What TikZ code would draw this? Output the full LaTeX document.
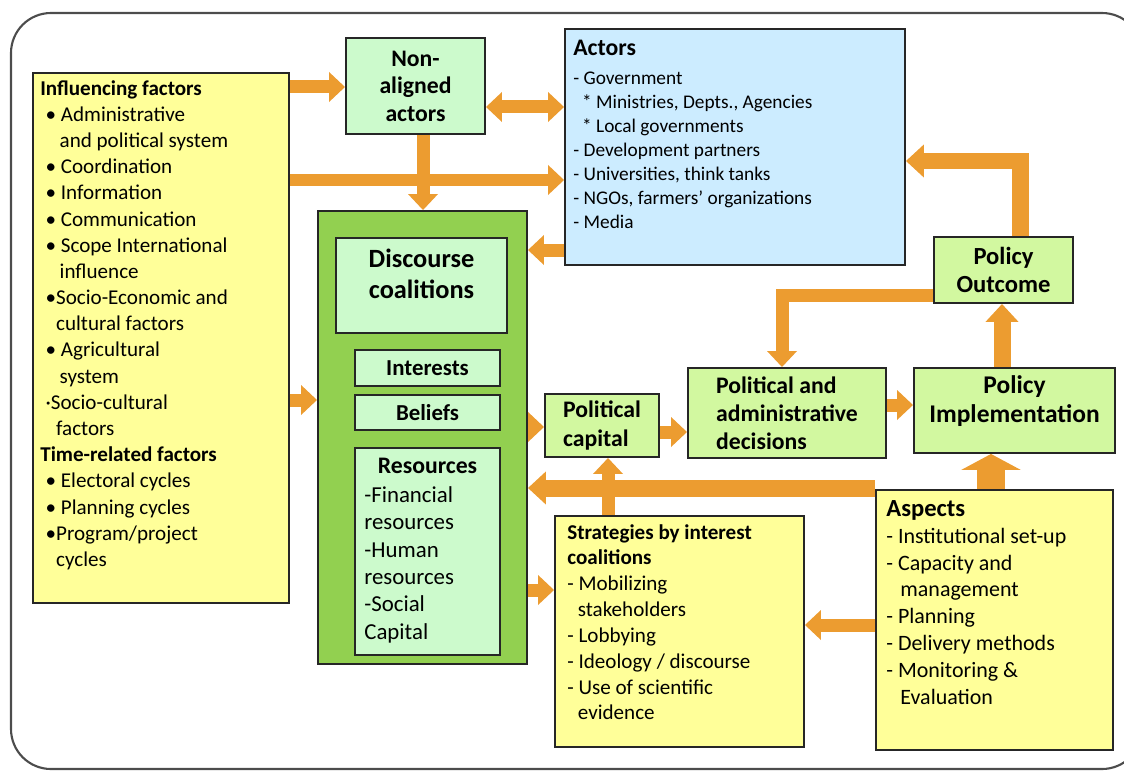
\documentclass[tikz,border=0pt]{standalone}
\usepackage{fontspec}
\setmainfont{Carlito}
\usetikzlibrary{arrows.meta,positioning}

\definecolor{factoryellow}{RGB}{255,255,153}
\definecolor{mintgreen}{RGB}{204,250,204}
\definecolor{limegreen}{RGB}{210,248,160}
\definecolor{actorblue}{RGB}{204,236,255}
\definecolor{groupgreen}{RGB}{146,208,80}
\definecolor{arroworange}{RGB}{236,156,48}

\begin{document}
\begin{tikzpicture}[x=0.02cm,y=-0.02cm]
\tikzset{
  box/.style={draw=black!85,line width=1.1pt,inner sep=2pt},
  yellowbox/.style={box,fill=factoryellow},
  mintbox/.style={box,fill=mintgreen},
  limebox/.style={box,fill=limegreen,font=\bfseries\fontsize{13.5}{16}\selectfont,align=center},
  bluebox/.style={box,fill=actorblue},
  groupbox/.style={box,fill=groupgreen},
  listtext/.style={anchor=north west,inner sep=0pt,align=left},
  flow/.style={-{Triangle[width=5.8mm,length=3.2mm]},line width=2.6mm,draw=arroworange},
  twoway/.style={{Triangle[width=5.8mm,length=3.2mm]}-{Triangle[width=5.8mm,length=3.2mm]},line width=2.6mm,draw=arroworange},
  wideflow/.style={-{Triangle[width=6.4mm,length=3.6mm]},line width=3.4mm,draw=arroworange},
  fatflow/.style={-{Triangle[width=11.8mm,length=3.2mm]},line width=5.6mm,draw=arroworange}
}
\useasboundingbox (0,0) rectangle (1124,770);
\draw[line width=1.2pt,draw=black!70,rounded corners=8mm] (11,13) rectangle (1142,769);

% boxes
\node[yellowbox,minimum width=5.12cm,minimum height=10.6cm] (infl) at (161,338) {};
\node[mintbox,font=\bfseries\fontsize{13.5}{15.6}\selectfont,align=center,minimum width=2.78cm,minimum height=1.92cm] (nonal) at (415.5,86) {Non-\\aligned\\actors};
\node[bluebox,minimum width=6.8cm,minimum height=4.72cm] (actors) at (735,147) {};
\node[groupbox,minimum width=4.18cm,minimum height=9.06cm] (dc) at (422.5,437.5) {};
\node[mintbox,minimum width=3.42cm,minimum height=1.9cm] (disc) at (421.5,285.5) {};
\node[mintbox,font=\bfseries\fontsize{13}{16}\selectfont,minimum width=2.9cm,minimum height=0.72cm] (intr) at (427.5,368) {Interests};
\node[mintbox,font=\bfseries\fontsize{13}{16}\selectfont,minimum width=2.9cm,minimum height=0.7cm] (blf) at (427.5,412.5) {Beliefs};
\node[mintbox,minimum width=2.9cm,minimum height=4.14cm] (res) at (427.5,551.5) {};
\node[limebox,align=left,minimum width=2.28cm,minimum height=1.26cm] (polcap) at (602,425.5) {Political\\capital};
\node[limebox,align=left,minimum width=3.96cm,minimum height=1.8cm] (decis) at (787,413) {Political and\\administrative\\decisions};
\node[limebox,minimum width=4.02cm,minimum height=1.7cm] (implem) at (1014.5,410.5) {};
\node[limebox,font=\bfseries\fontsize{14}{16}\selectfont,minimum width=2.78cm,minimum height=1.32cm] (outcome) at (1003.5,270) {Policy\\Outcome};
\node[yellowbox,minimum width=4.98cm,minimum height=4.62cm] (strat) at (679.5,631.5) {};
\node[yellowbox,minimum width=4.74cm,minimum height=5.2cm] (aspects) at (994.5,620) {};

% texts
\node[listtext,font=\fontsize{12}{14.9}\selectfont] (infltext) at (40,80) {%
\textbf{Influencing factors}\\
\hspace*{3pt}\textbullet\ Administrative\\
\hspace*{11pt}and political system\\
\hspace*{3pt}\textbullet\ Coordination\\
\hspace*{3pt}\textbullet\ Information\\
\hspace*{3pt}\textbullet\ Communication\\
\hspace*{3pt}\textbullet\ Scope International\\
\hspace*{11pt}influence\\
\hspace*{3pt}\textbullet Socio-Economic and\\
\hspace*{9pt}cultural factors\\
\hspace*{3pt}\textbullet\ Agricultural\\
\hspace*{11pt}system\\
\hspace*{3pt}·Socio-cultural\\
\hspace*{9pt}factors\\
\textbf{Time-related factors}\\
\hspace*{3pt}\textbullet\ Electoral cycles\\
\hspace*{3pt}\textbullet\ Planning cycles\\
\hspace*{3pt}\textbullet Program/project\\
\hspace*{9pt}cycles};
\node[listtext,font=\fontsize{11}{13.6}\selectfont] (actorstext) at (573,40) {%
{\bfseries\fontsize{13.5}{14}\selectfont Actors}\\[3pt]
- Government\\
\hspace*{5pt}* Ministries, Depts., Agencies\\
\hspace*{5pt}* Local governments\\
- Development partners\\
- Universities, think tanks\\
- NGOs, farmers' organizations\\
- Media};
\node[font=\bfseries\fontsize{15}{18}\selectfont,align=center] (disctext) at (421.5,274) {Discourse\\coalitions};
\node[font=\bfseries\fontsize{14.5}{16.5}\selectfont,align=center] (implemtext) at (1014.5,401) {Policy\\Implementation};
\node[font=\bfseries\fontsize{13.5}{16}\selectfont,anchor=north,inner sep=0pt] (restitle) at (427.5,458) {Resources};
\node[listtext,font=\fontsize{13}{15.6}\selectfont] (reslist) at (364,486) {%
-Financial\\resources\\-Human\\resources\\-Social\\Capital};
\node[listtext,font=\fontsize{12}{14.7}\selectfont] (strattext) at (567,524) {%
\textbf{Strategies by interest}\\
\textbf{coalitions}\\
- Mobilizing\\
\hspace*{6pt}stakeholders\\
- Lobbying\\
- Ideology / discourse\\
- Use of scientific\\
\hspace*{6pt}evidence};
\node[listtext,font=\fontsize{12.5}{15.3}\selectfont] (aspectstext) at (886,500) {%
{\bfseries\fontsize{14}{15}\selectfont Aspects}\\
- Institutional set-up\\
- Capacity and\\
\hspace*{8pt}management\\
- Planning\\
- Delivery methods\\
- Monitoring \&\\
\hspace*{8pt}Evaluation};

% arrows
\draw[flow] (infl.east |- 0,87) -- (nonal.west |- 0,87);
\draw[twoway] (nonal.east |- 0,107) -- (actors.west |- 0,107);
\draw[flow] (infl.east |- 0,180) -- (actors.west |- 0,180);
\draw[flow] (423,0 |- nonal.south) -- (423,0 |- dc.north);
\draw[flow] (actors.west |- 0,250) -- (dc.east |- 0,250);
\draw[flow] (infl.east |- 0,400) -- (dc.west |- 0,400);
\draw[flow] (dc.east |- 0,427) -- (polcap.west |- 0,427);
\draw[flow] (dc.east |- 0,590) -- (strat.west |- 0,590);
\draw[flow] (polcap.east |- 0,432) -- (decis.west |- 0,432);
\draw[flow] (decis.east |- 0,405) -- (implem.west |- 0,405);
\draw[wideflow] (aspects.west |- 0,488) -- (dc.east |- 0,488);
\draw[flow] (608,0 |- strat.north) -- (608,0 |- polcap.south);
\draw[flow] (aspects.west |- 0,625) -- (strat.east |- 0,625);
\draw[fatflow] (991,0 |- aspects.north) -- (991,0 |- implem.south);
\draw[wideflow] (1002,0 |- implem.north) -- (1002,0 |- outcome.south);
\draw[wideflow] (1020,0 |- outcome.north) |- (actors.east |- 0,161);
\draw[flow] (outcome.west |- 0,295) -| (782,0 |- decis.north);
\end{tikzpicture}
\end{document}
